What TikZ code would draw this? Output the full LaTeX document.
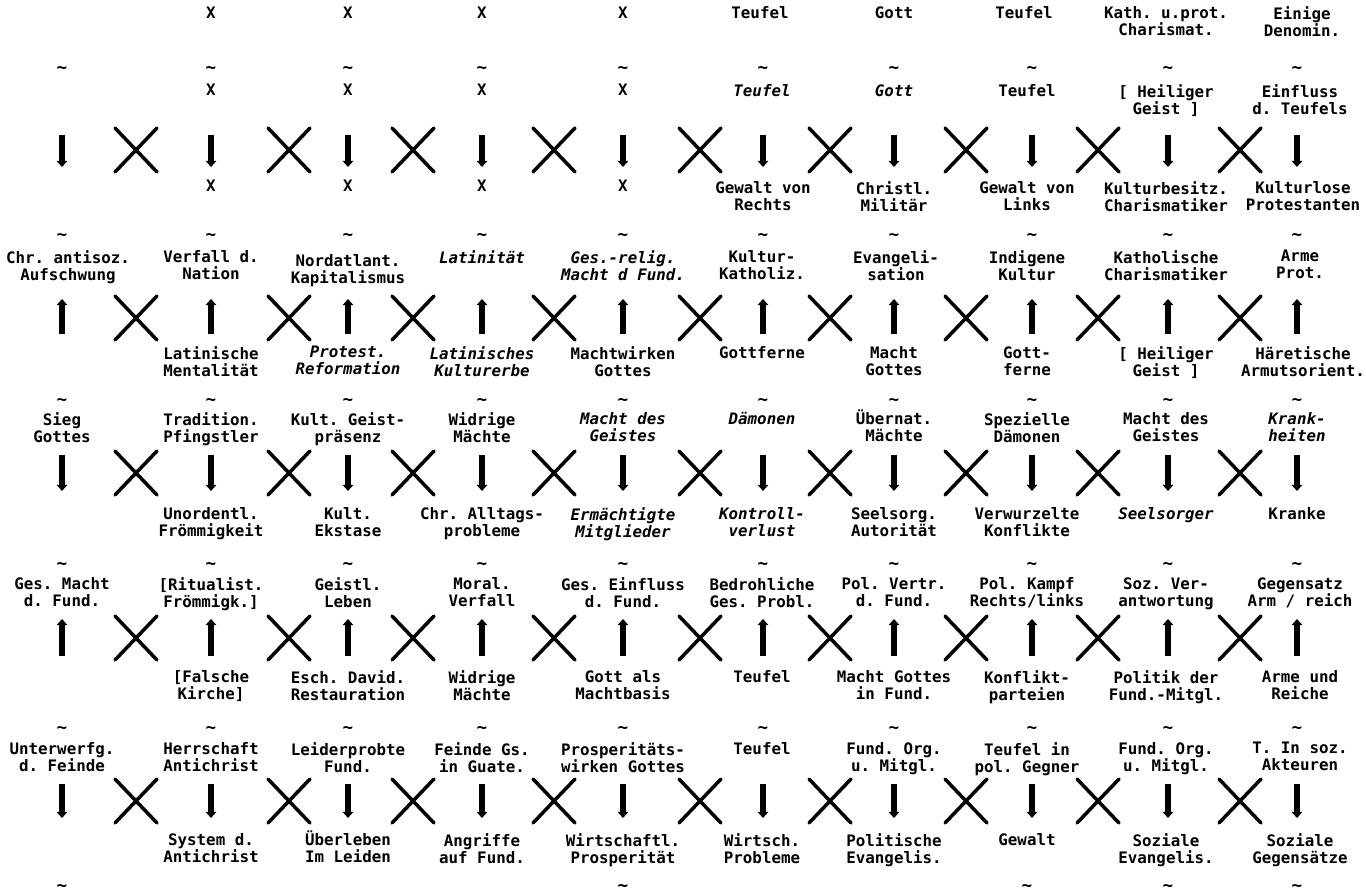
\documentclass[tikz,border=0pt]{standalone}
\usepackage{fontspec}
\setmonofont{DejaVu Sans Mono}
\usepackage{xcolor}
\usepackage{tikz}
\usetikzlibrary{arrows.meta}
\definecolor{printblack}{RGB}{0, 0, 0}

\tikzset{
  lbl/.style={anchor=north, inner sep=0pt, align=center, text=printblack,
    font=\ttfamily\bfseries\fontsize{9}{9.7}\selectfont},
  ilbl/.style={lbl, font=\ttfamily\bfseries\itshape\fontsize{9}{9.7}\selectfont},
  simmark/.style={inner sep=0pt, text=printblack, font=\ttfamily\bfseries\fontsize{10}{10}\selectfont},
  relarrow/.style={line width=3pt, printblack, -{Triangle[length=3.5pt,width=6pt]}},
  crossline/.style={line width=2pt, printblack, line cap=round},
}

\begin{document}
\begin{tikzpicture}[x=0.02cm, y=-0.02cm]
    \useasboundingbox (0,0) rectangle (1366,895);

    % arrows: down in rows 1, 3, 5 and up in rows 2, 4
    \foreach \ya/\yb in {135/167, 455/491, 784/818}
        \foreach \x in {62,211,348,482,623,763,894,1032,1168,1297}
            \draw[relarrow] (\x,\ya) -- (\x,\yb);
    \foreach \ya/\yb in {299/334, 619/656}
        \foreach \x in {62,211,348,482,623,763,894,1032,1168,1297}
            \draw[relarrow] (\x,\yb) -- (\x,\ya);

    % crosses between the columns
    \foreach \yc in {150,318,473,638,801}
        \foreach \x in {136,289,413,554,700,830,966,1098,1240} {
            \draw[crossline] (\x-21,\yc-22) -- (\x+21,\yc+22);
            \draw[crossline] (\x-21,\yc+22) -- (\x+21,\yc-22);
        }

    % similarity marks
    \foreach \yt in {70,237,402,566,730}
        \foreach \x [count=\c] in {62,211,348,482,623,763,894,1032,1168,1297}
            \node[simmark] (s\yt c\c) at (\x,\yt) {\textasciitilde};
    \foreach \x [count=\c] in {62,623,1027,1168,1297}
        \node[simmark] (s888c\c) at (\x,888) {\textasciitilde};

    % top row
    \node[lbl] (l0c2) at (211,7) {X};
    \node[lbl] (l0c3) at (348,7) {X};
    \node[lbl] (l0c4) at (482,7) {X};
    \node[lbl] (l0c5) at (623,7) {X};
    \node[lbl] (l0c6) at (760,6) {Teufel};
    \node[lbl] (l0c7) at (894,6) {Gott};
    \node[lbl] (l0c8) at (1024,6) {Teufel};
    \node[lbl] (l0c9) at (1166,6) {Kath. u.prot.\\Charismat.};
    \node[lbl] (l0c10) at (1302,6) {Einige\\Denomin.};

    % row 1
    \node[lbl] (u1c2) at (211,84) {X};
    \node[lbl] (u1c3) at (348,84) {X};
    \node[lbl] (u1c4) at (482,84) {X};
    \node[lbl] (u1c5) at (623,84) {X};
    \node[ilbl] (u1c6) at (762,84) {Teufel};
    \node[ilbl] (u1c7) at (894,84) {Gott};
    \node[lbl] (u1c8) at (1027,84) {Teufel};
    \node[lbl] (u1c9) at (1166,84) {[ Heiliger\\Geist ]};
    \node[lbl] (u1c10) at (1300,84) {Einfluss\\d. Teufels};
    \node[lbl] (d1c2) at (211,180) {X};
    \node[lbl] (d1c3) at (348,180) {X};
    \node[lbl] (d1c4) at (482,180) {X};
    \node[lbl] (d1c5) at (623,180) {X};
    \node[lbl] (d1c6) at (763,181) {Gewalt von\\Rechts};
    \node[lbl] (d1c7) at (894,181) {Christl.\\Militär};
    \node[lbl] (d1c8) at (1027,181) {Gewalt von\\Links};
    \node[lbl] (d1c9) at (1166,181) {Kulturbesitz.\\Charismatiker};
    \node[lbl] (d1c10) at (1303,181) {Kulturlose\\Protestanten};

    % row 2
    \node[lbl] (u2c1) at (68,250) {Chr. antisoz.\\Aufschwung};
    \node[lbl] (u2c2) at (211,250) {Verfall d.\\Nation};
    \node[lbl] (u2c3) at (348,254) {Nordatlant.\\Kapitalismus};
    \node[ilbl] (u2c4) at (482,250) {Latinität};
    \node[ilbl] (u2c5) at (623,250) {Ges.-relig.\\Macht d Fund.};
    \node[lbl] (u2c6) at (762,250) {Kultur-\\Katholiz.};
    \node[lbl] (u2c7) at (896,250) {Evangeli-\\sation};
    \node[lbl] (u2c8) at (1027,250) {Indigene\\Kultur};
    \node[lbl] (u2c9) at (1166,250) {Katholische\\Charismatiker};
    \node[lbl] (u2c10) at (1300,250) {Arme\\Prot.};
    \node[lbl] (d2c2) at (211,346) {Latinische\\Mentalität};
    \node[ilbl] (d2c3) at (348,346) {Protest.\\Reformation};
    \node[ilbl] (d2c4) at (482,346) {Latinisches\\Kulturerbe};
    \node[lbl] (d2c5) at (623,346) {Machtwirken\\Gottes};
    \node[lbl] (d2c6) at (762,346) {Gottferne};
    \node[lbl] (d2c7) at (894,346) {Macht\\Gottes};
    \node[lbl] (d2c8) at (1027,346) {Gott-\\ferne};
    \node[lbl] (d2c9) at (1166,346) {[ Heiliger\\Geist ]};
    \node[lbl] (d2c10) at (1303,346) {Häretische\\Armutsorient.};

    % row 3
    \node[lbl] (u3c1) at (62,412) {Sieg\\Gottes};
    \node[lbl] (u3c2) at (211,412) {Tradition.\\Pfingstler};
    \node[lbl] (u3c3) at (348,412) {Kult. Geist-\\präsenz};
    \node[lbl] (u3c4) at (482,412) {Widrige\\Mächte};
    \node[ilbl] (u3c5) at (623,412) {Macht des\\Geistes};
    \node[ilbl] (u3c6) at (762,412) {Dämonen};
    \node[lbl] (u3c7) at (894,409) {Übernat.\\Mächte};
    \node[lbl] (u3c8) at (1027,412) {Spezielle\\Dämonen};
    \node[lbl] (u3c9) at (1166,412) {Macht des\\Geistes};
    \node[ilbl] (u3c10) at (1297,412) {Krank-\\heiten};
    \node[lbl] (d3c2) at (211,507) {Unordentl.\\Frömmigkeit};
    \node[lbl] (d3c3) at (348,507) {Kult.\\Ekstase};
    \node[lbl] (d3c4) at (482,507) {Chr. Alltags-\\probleme};
    \node[ilbl] (d3c5) at (623,507) {Ermächtigte\\Mitglieder};
    \node[ilbl] (d3c6) at (762,507) {Kontroll-\\verlust};
    \node[lbl] (d3c7) at (894,507) {Seelsorg.\\Autorität};
    \node[lbl] (d3c8) at (1027,507) {Verwurzelte\\Konflikte};
    \node[ilbl] (d3c9) at (1166,507) {Seelsorger};
    \node[lbl] (d3c10) at (1297,507) {Kranke};

    % row 4
    \node[lbl] (u4c1) at (62,577) {Ges. Macht\\d. Fund.};
    \node[lbl] (u4c2) at (211,577) {[Ritualist.\\Frömmigk.]};
    \node[lbl] (u4c3) at (348,577) {Geistl.\\Leben};
    \node[lbl] (u4c4) at (482,577) {Moral.\\Verfall};
    \node[lbl] (u4c5) at (623,577) {Ges. Einfluss\\d. Fund.};
    \node[lbl] (u4c6) at (762,577) {Bedrohliche\\Ges. Probl.};
    \node[lbl] (u4c7) at (894,577) {Pol. Vertr.\\d. Fund.};
    \node[lbl] (u4c8) at (1027,577) {Pol. Kampf\\Rechts/links};
    \node[lbl] (u4c9) at (1166,577) {Soz. Ver-\\antwortung};
    \node[lbl] (u4c10) at (1300,577) {Gegensatz\\Arm / reich};
    \node[lbl] (d4c2) at (211,670) {[Falsche\\Kirche]};
    \node[lbl] (d4c3) at (348,670) {Esch. David.\\Restauration};
    \node[lbl] (d4c4) at (482,670) {Widrige\\Mächte};
    \node[lbl] (d4c5) at (623,670) {Gott als\\Machtbasis};
    \node[lbl] (d4c6) at (762,670) {Teufel};
    \node[lbl] (d4c7) at (894,670) {Macht Gottes\\in Fund.};
    \node[lbl] (d4c8) at (1027,670) {Konflikt-\\parteien};
    \node[lbl] (d4c9) at (1166,670) {Politik der\\Fund.-Mitgl.};
    \node[lbl] (d4c10) at (1300,670) {Arme und\\Reiche};

    % row 5
    \node[lbl] (u5c1) at (62,742) {Unterwerfg.\\d. Feinde};
    \node[lbl] (u5c2) at (211,742) {Herrschaft\\Antichrist};
    \node[lbl] (u5c3) at (348,742) {Leiderprobte\\Fund.};
    \node[lbl] (u5c4) at (482,742) {Feinde Gs.\\in Guate.};
    \node[lbl] (u5c5) at (623,742) {Prosperitäts-\\wirken Gottes};
    \node[lbl] (u5c6) at (762,742) {Teufel};
    \node[lbl] (u5c7) at (894,742) {Fund. Org.\\u. Mitgl.};
    \node[lbl] (u5c8) at (1027,742) {Teufel in\\pol. Gegner};
    \node[lbl] (u5c9) at (1166,742) {Fund. Org.\\u. Mitgl.};
    \node[lbl] (u5c10) at (1300,742) {T. In soz.\\Akteuren};
    \node[lbl] (d5c2) at (211,833) {System d.\\Antichrist};
    \node[lbl] (d5c3) at (348,830) {Überleben\\Im Leiden};
    \node[lbl] (d5c4) at (482,833) {Angriffe\\auf Fund.};
    \node[lbl] (d5c5) at (623,833) {Wirtschaftl.\\Prosperität};
    \node[lbl] (d5c6) at (762,833) {Wirtsch.\\Probleme};
    \node[lbl] (d5c7) at (894,833) {Politische\\Evangelis.};
    \node[lbl] (d5c8) at (1027,833) {Gewalt};
    \node[lbl] (d5c9) at (1166,833) {Soziale\\Evangelis.};
    \node[lbl] (d5c10) at (1300,833) {Soziale\\Gegensätze};
\end{tikzpicture}
\end{document}
